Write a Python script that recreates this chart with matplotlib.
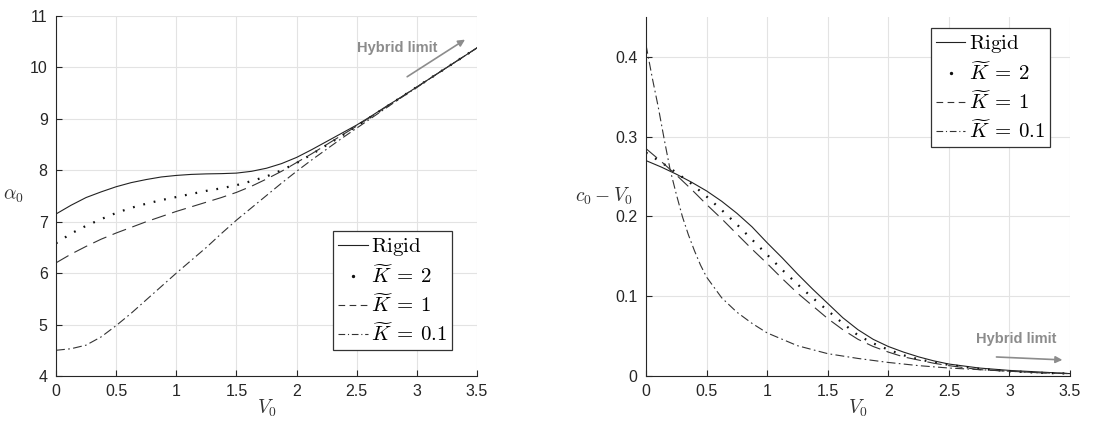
import numpy as np
import matplotlib.pyplot as plt
from matplotlib.lines import Line2D

plt.rcParams["mathtext.fontset"] = "cm"
plt.rcParams["font.family"] = ["Liberation Sans", "DejaVu Sans"]

# -----------------------------
# DATA
# -----------------------------
v_left = [0, 0.125, 0.25, 0.375, 0.5, 0.625, 0.75, 0.875, 1.0, 1.125, 1.25, 1.375, 1.5, 1.625,
          1.75, 1.875, 2.0, 2.125, 2.25, 2.375, 2.5, 2.625, 2.75, 2.875, 3.0, 3.125, 3.25, 3.375, 3.5]
alpha_rigid = [7.15, 7.32, 7.47, 7.58, 7.68, 7.76, 7.82, 7.87, 7.90, 7.92, 7.93, 7.935, 7.945, 7.98,
               8.04, 8.13, 8.25, 8.40, 8.56, 8.72, 8.88, 9.06, 9.25, 9.43, 9.62, 9.81, 10.0, 10.19, 10.38]
alpha_k2 = [6.58, 6.77, 6.92, 7.05, 7.17, 7.27, 7.35, 7.42, 7.48, 7.54, 7.60, 7.65, 7.71, 7.79,
            7.88, 8.00, 8.14, 8.31, 8.49, 8.67, 8.86, 9.05, 9.24, 9.43, 9.62, 9.81, 10.0, 10.19, 10.38]
alpha_k1 = [6.20, 6.37, 6.52, 6.66, 6.78, 6.89, 7.00, 7.10, 7.20, 7.29, 7.38, 7.47, 7.57, 7.69,
            7.83, 7.98, 8.15, 8.32, 8.50, 8.68, 8.86, 9.05, 9.24, 9.43, 9.62, 9.81, 10.0, 10.19, 10.38]
alpha_k01 = [4.50, 4.53, 4.60, 4.76, 4.98, 5.22, 5.48, 5.74, 6.00, 6.25, 6.50, 6.77, 7.03, 7.27,
             7.51, 7.75, 7.98, 8.20, 8.41, 8.62, 8.82, 9.02, 9.22, 9.42, 9.61, 9.81, 10.0, 10.19, 10.38]

v_right = [0, 0.125, 0.25, 0.375, 0.5, 0.625, 0.75, 0.875, 1.0, 1.125, 1.25, 1.375, 1.5, 1.625,
           1.75, 1.875, 2.0, 2.125, 2.25, 2.375, 2.5, 2.75, 3.0, 3.25, 3.5]
c_rigid = [0.270, 0.262, 0.253, 0.243, 0.232, 0.219, 0.204, 0.187, 0.167, 0.148, 0.128, 0.109, 0.091,
           0.073, 0.058, 0.046, 0.037, 0.030, 0.024, 0.019, 0.015, 0.010, 0.007, 0.005, 0.003]
c_k2 = [0.280, 0.268, 0.255, 0.241, 0.225, 0.208, 0.190, 0.171, 0.152, 0.133, 0.115, 0.098, 0.082,
        0.066, 0.051, 0.041, 0.033, 0.026, 0.021, 0.017, 0.014, 0.009, 0.006, 0.004, 0.003]
c_k1 = [0.285, 0.269, 0.252, 0.234, 0.215, 0.197, 0.178, 0.159, 0.141, 0.122, 0.104, 0.088, 0.072,
        0.058, 0.046, 0.037, 0.030, 0.024, 0.020, 0.016, 0.013, 0.008, 0.006, 0.004, 0.003]
v_right_k01 = [0, 0.05, 0.1, 0.15, 0.2, 0.25, 0.3, 0.35, 0.4, 0.45, 0.5, 0.625, 0.75, 0.875, 1.0,
               1.125, 1.25, 1.375, 1.5, 1.75, 2.0, 2.25, 2.5, 2.75, 3.0, 3.25, 3.5]
c_k01 = [0.415, 0.375, 0.338, 0.297, 0.258, 0.228, 0.200, 0.177, 0.157, 0.139, 0.124, 0.098, 0.080,
         0.066, 0.054, 0.046, 0.038, 0.033, 0.028, 0.022, 0.017, 0.013, 0.010, 0.008, 0.006, 0.004, 0.003]

labels = [r"$\mathrm{Rigid}$", r"$\widetilde{K}\:=\:2$", r"$\widetilde{K}\:=\:1$", r"$\widetilde{K}\:=\:0.1$"]
xtick_labels = ["0", "0.5", "1", "1.5", "2", "2.5", "3", "3.5"]

# -----------------------------
# STYLES
# -----------------------------
styles = [
    dict(color="#222222", lw=0.8, ls="-"),
    dict(color="#111111", lw=1.6, ls=(0, (0.8, 4.0))),
    dict(color="#333333", lw=0.8, ls=(0, (13, 6))),
    dict(color="#333333", lw=0.8, ls=(0, (8, 3, 1.5, 3))),
]
# legend proxies (the dotted entry shows one dot, like the original)
handles = [
    Line2D([], [], **styles[0]),
    Line2D([], [], ls="none", marker="o", markersize=1.4, color="#111111"),
    Line2D([], [], color="#333333", lw=0.8, ls=(0, (6, 4))),
    Line2D([], [], color="#333333", lw=0.8, ls=(0, (6, 2.5, 1, 2.5))),
]

fig = plt.figure(figsize=(11.16, 4.21), dpi=100)
ax1 = fig.add_axes([56 / 1116, 1 - 376 / 421, 421 / 1116, 360 / 421])
ax2 = fig.add_axes([646 / 1116, 1 - 376 / 421, 424 / 1116, 359 / 421])


def style_axes(ax):
    ax.grid(True, color="#e3e3e3", lw=0.8)
    ax.set_axisbelow(True)
    for s in ["top", "right"]:
        ax.spines[s].set_visible(False)
    for s in ["left", "bottom"]:
        ax.spines[s].set_color("#262626")
        ax.spines[s].set_linewidth(0.8)
    ax.tick_params(direction="in", length=4, width=0.8, colors="#262626",
                   labelsize=11.5, pad=6)


def add_legend(ax, loc, anchor):
    leg = ax.legend(handles, labels, loc=loc, bbox_to_anchor=anchor, fontsize=15,
                    fancybox=False, framealpha=1, edgecolor="#333333",
                    handlelength=1.4, handletextpad=0.15, borderpad=0.25,
                    labelspacing=0.3, borderaxespad=0)
    leg.get_frame().set_linewidth(0.9)
    return leg


# left panel
ax1.plot(v_left, alpha_rigid, **styles[0])
ax1.plot(v_left, alpha_k2, **styles[1])
ax1.plot(v_left, alpha_k1, **styles[2])
ax1.plot(v_left, alpha_k01, **styles[3])
ax1.set_xlim(0, 3.5)
ax1.set_ylim(4, 11)
ax1.set_xticks(np.arange(0, 3.51, 0.5))
ax1.set_xticklabels(xtick_labels)
ax1.set_yticks(range(4, 12))
style_axes(ax1)
ax1.set_xlabel(r"$V_0$", fontsize=14, labelpad=-1, color="#333333")
ax1.set_ylabel(r"$\alpha_0$", fontsize=14, rotation=0, labelpad=12,
               color="#333333", va="center")
add_legend(ax1, "lower right", (0.941, 0.072))

ax1.annotate("", xy=(3.42, 10.57), xytext=(2.9, 9.79),
             arrowprops=dict(arrowstyle="-|>", color="#8c8c8c", lw=1.2,
                             mutation_scale=10))
ax1.text(2.5, 10.38, "Hybrid limit", color="#8c8c8c", fontsize=10.5,
         fontweight="bold", va="center", ha="left")

# right panel
ax2.plot(v_right, c_rigid, **styles[0])
ax2.plot(v_right, c_k2, **styles[1])
ax2.plot(v_right, c_k1, **styles[2])
ax2.plot(v_right_k01, c_k01, **styles[3])
ax2.set_xlim(0, 3.5)
ax2.set_ylim(0, 0.45)
ax2.set_xticks(np.arange(0, 3.51, 0.5))
ax2.set_xticklabels(xtick_labels)
ax2.set_yticks([0, 0.1, 0.2, 0.3, 0.4])
ax2.set_yticklabels(["0", "0.1", "0.2", "0.3", "0.4"])
style_axes(ax2)
ax2.set_xlabel(r"$V_0$", fontsize=14, labelpad=-1, color="#333333")
ax2.set_ylabel(r"$c_0 - V_0$", fontsize=14, rotation=0, labelpad=8,
               color="#333333", va="center")
add_legend(ax2, "upper right", (0.953, 0.969))

ax2.annotate("", xy=(3.46, 0.020), xytext=(2.87, 0.024),
             arrowprops=dict(arrowstyle="-|>", color="#8c8c8c", lw=1.2,
                             mutation_scale=10))
ax2.text(2.72, 0.046, "Hybrid limit", color="#8c8c8c", fontsize=10.5,
         fontweight="bold", va="center", ha="left")

fig.savefig("out.png", dpi=100)
